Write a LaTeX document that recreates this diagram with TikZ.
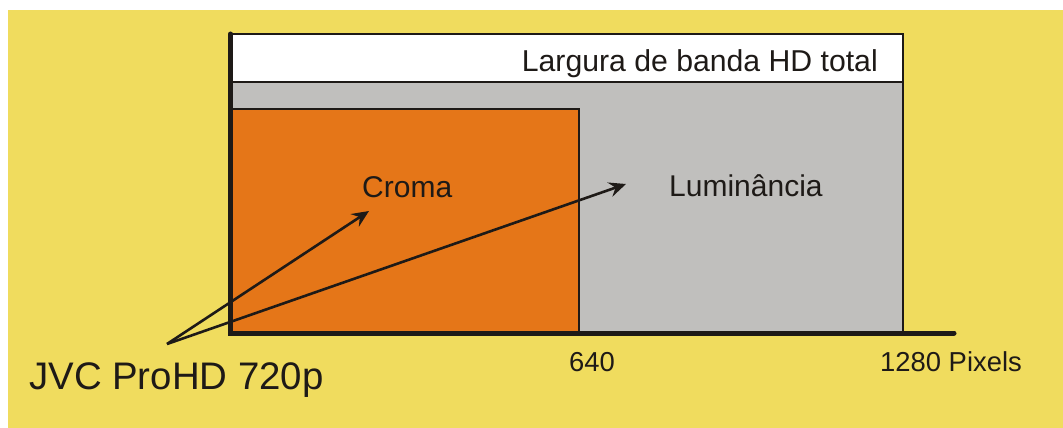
\documentclass[tikz,border=0pt]{standalone}
\usepackage{fontspec}
\setmainfont{Liberation Sans}
\usetikzlibrary{arrows.meta}
\definecolor{bgyellow}{RGB}{240,220,94}
\definecolor{chroma}{RGB}{229,118,24}
\definecolor{luma}{RGB}{192,191,189}
\definecolor{ink}{RGB}{30,26,23}
\tikzset{
  lbl/.style={inner sep=0pt, text=ink, font=\fontsize{30}{35}\selectfont},
  tick/.style={inner sep=0pt, text=ink, font=\fontsize{27.4}{32}\selectfont},
  axis/.style={draw=ink, line width=5pt, line cap=round},
  band/.style={draw=ink, line width=2pt},
  pointer/.style={draw=ink, line width=2.6pt,
    -{Stealth[length=17pt, width=15pt, inset=6pt]}},
}
\begin{document}
\begin{tikzpicture}[x=1pt, y=-1pt]
  \useasboundingbox (0,0) rectangle (1063,428);
  \fill[white] (0,0) rectangle (1063,428);
  \fill[bgyellow] (8,10) rectangle (1063,428);

  % bandwidth blocks
  \filldraw[band, fill=luma] (231,82) rectangle (903,333);
  \filldraw[band, fill=white, line width=1.6pt] (231,34) rectangle (903,82);
  \filldraw[band, fill=chroma, line width=2.4pt] (231,109) rectangle (579,333);

  % axes
  \draw[axis] (230.5,34) -- (230.5,333) -- (954,333);

  % labels
  \node[lbl, anchor=base east, font=\fontsize{30.2}{35}\selectfont] (total) at (878,71) {Largura de banda HD total};
  \node[lbl, anchor=base west] (croma) at (362,197) {Croma};
  \node[lbl, anchor=base west] (luma) at (669,196) {Luminância};
  \node[tick, anchor=base west] (t640) at (569,371) {640};
  \node[tick, anchor=base west] (t1280) at (880,371) {1280 Pixels};
  \node[inner sep=0pt, text=ink, font=\fontsize{38.4}{44}\selectfont, anchor=base west] (jvc) at (29,389) {JVC ProHD 720p};

  % pointers from the camera label
  \coordinate (src) at (167,344);
  \coordinate (cromatip) at (369,211);
  \coordinate (lumatip) at (626,184);
  \draw[pointer] (src) -- (cromatip);
  \draw[pointer] (src) -- (lumatip);
\end{tikzpicture}
\end{document}
